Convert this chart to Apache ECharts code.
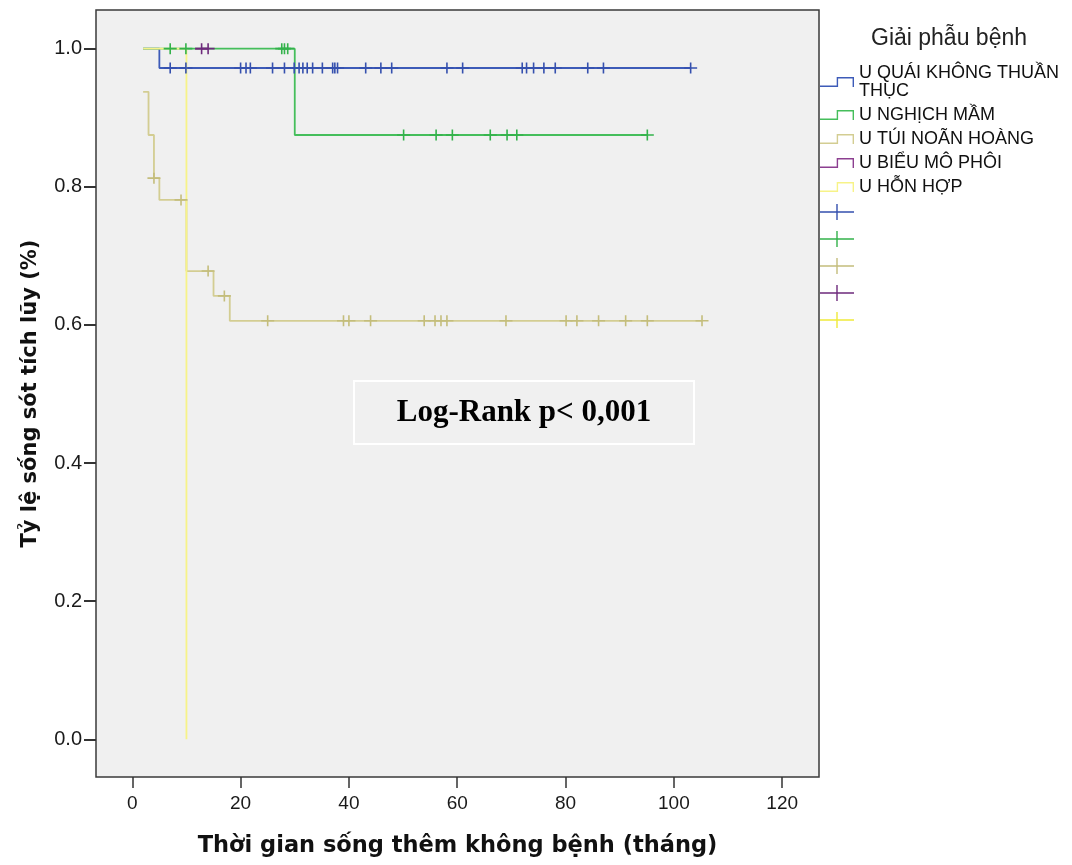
<!DOCTYPE html>
<html><head><meta charset="utf-8">
<script src="https://cdn.jsdelivr.net/npm/echarts@6/dist/echarts.min.js"></script>
<style>html,body{margin:0;padding:0;background:#fff}#c{width:1072px;height:865px}</style>
</head><body><div id="c"></div>
<script>
// ---- Data ----
const groupNames = ['U QUÁI KHÔNG THUẦN THỤC', 'U NGHỊCH MẦM', 'U TÚI NOÃN HOÀNG', 'U BIỂU MÔ PHÔI', 'U HỖN HỢP'];

// Kaplan-Meier steps: time (months) and survival from that time on
const blueTimes = [2, 5];
const blueSurv = [1.0, 0.972];
const blueCensor = [7.0, 9.9, 20.0, 21.0, 21.8, 25.9, 28.1, 29.9, 30.8, 31.5, 32.3, 33.3, 35.1, 37.0, 37.4, 37.9, 43.1, 45.9, 47.9, 58.1, 61.0, 72.0, 72.8, 74.1, 76.0, 78.1, 84.1, 87.0, 103.1];

const greenTimes = [2, 30];
const greenSurv = [1.0, 0.875];
const greenCensor = [7.0, 9.9, 27.6, 28.1, 28.7, 50.1, 56.1, 59.1, 66.1, 69.2, 71.0, 95.1];

const tanTimes = [2, 3, 4, 5, 10, 15, 18];
const tanSurv = [0.9375, 0.875, 0.8125, 0.781, 0.678, 0.642, 0.606];
const tanCensor = [4, 9, 14, 17, 25, 39, 40, 44, 53.9, 55.9, 57.0, 58.1, 69.0, 80.1, 82.1, 86.1, 91.1, 95.1, 105.2];

const purpleTimes = [11.6];
const purpleSurv = [1.0];
const purpleCensor = [12.8, 14.0];

const yellowTimes = [2, 10];
const yellowSurv = [1.0, 0.0];
const yellowCensor = [];

const xTicks = [0, 20, 40, 60, 80, 100, 120];
const yTicks = [0, 0.2, 0.4, 0.6, 0.8, 1.0];

// ---- Styles ----
const lineColors = ['#3D5BB8', '#45BE5B', '#D3CD92', '#8C3F90', '#F7F388'];
const censorColors = ['#3550AE', '#33B24B', '#C4BD7C', '#6E2A7C', '#F0EA3A'];

const groups = [
  [blueTimes, blueSurv, blueCensor],
  [greenTimes, greenSurv, greenCensor],
  [tanTimes, tanSurv, tanCensor],
  [purpleTimes, purpleSurv, purpleCensor],
  [yellowTimes, yellowSurv, yellowCensor]
];

function survAt(times, surv, t) {
  let s = surv[0];
  for (let i = 0; i < times.length; i++) if (times[i] <= t + 1e-9) s = surv[i];
  return s;
}

const stepIcon = 'path://M0,8.6 L16.7,8.6 L16.7,0 L34,0 L34,10 L32.6,10 L32.6,1.4 L18.1,1.4 L18.1,10 L0,10 Z';
const plusIcon = 'path://M0,7.3 L16.3,7.3 L16.3,0 L17.7,0 L17.7,7.3 L34,7.3 L34,8.7 L17.7,8.7 L17.7,16 L16.3,16 L16.3,8.7 L0,8.7 Z';
const plusMark = 'path://M0,4.7 L5.7,4.7 L5.7,0 L7.3,0 L7.3,4.7 L13,4.7 L13,6.3 L7.3,6.3 L7.3,11 L5.7,11 L5.7,6.3 L0,6.3 Z';

const censorNames = groupNames.map((n, i) => 'censor' + (i + 1));

const series = [];
groups.forEach((g, i) => {
  const [times, surv, cens] = g;
  const pts = times.map((t, k) => [t, surv[k]]);
  const endT = Math.max(times[times.length - 1], cens.length ? cens[cens.length - 1] : -Infinity);
  if (endT > times[times.length - 1]) pts.push([endT, surv[surv.length - 1]]);
  series.push({
    name: groupNames[i], type: 'line', step: 'end', data: pts,
    showSymbol: false, symbol: 'none', silent: true, z: 2 + i * 0.1,
    itemStyle: { color: lineColors[i] },
    lineStyle: { color: lineColors[i], width: 1.8 }
  });
});
groups.forEach((g, i) => {
  const [times, surv, cens] = g;
  series.push({
    name: censorNames[i], type: 'scatter', silent: true, z: 3 + i * 0.1,
    symbol: plusMark, symbolSize: [13, 11],
    itemStyle: { color: censorColors[i], opacity: 1 },
    data: cens.map(t => [t, survAt(times, surv, t)])
  });
});

const chart = echarts.init(document.getElementById('c'), null, { renderer: 'canvas' });
chart.setOption({
  animation: false,
  backgroundColor: '#ffffff',
  title: {
    text: 'Giải phẫu bệnh', left: 866, top: 22,
    textStyle: { fontFamily: 'Liberation Sans', fontSize: 23, fontWeight: 'normal', color: '#222' }
  },
  grid: {
    left: 96, right: 253, top: 10, bottom: 88, show: true,
    backgroundColor: '#F0F0F0', borderColor: '#3a3a3a', borderWidth: 1.5
  },
  legend: [
    {
      orient: 'vertical', left: 820, top: 64, padding: 0,
      itemWidth: 34, itemHeight: 10, itemGap: 6, selectedMode: false,
      icon: stepIcon, data: groupNames,
      itemStyle: { borderWidth: 0 },
      formatter: n => n === groupNames[0] ? 'U QUÁI KHÔNG THUẦN\nTHỤC' : n,
      textStyle: { fontFamily: 'Liberation Sans', fontSize: 18, lineHeight: 18, color: '#111' }
    },
    {
      orient: 'vertical', left: 820, top: 204, padding: 0,
      itemWidth: 34, itemHeight: 16, itemGap: 11, selectedMode: false,
      icon: plusIcon, data: censorNames,
      itemStyle: { borderWidth: 0 },
      formatter: () => '',
      textStyle: { fontSize: 8 }
    }
  ],
  xAxis: {
    type: 'value', min: -6.7, max: 126.8,
    name: 'Thời gian sống thêm không bệnh (tháng)', nameLocation: 'middle', nameGap: 58,
    nameTextStyle: { fontFamily: 'DejaVu Sans', fontWeight: 'bold', fontSize: 22.5, color: '#111' },
    axisLine: { show: false, onZero: false },
    splitLine: { show: false },
    axisTick: { show: true, customValues: xTicks, length: 11, lineStyle: { color: '#333', width: 1.5 } },
    axisLabel: { customValues: xTicks, margin: 17, fontFamily: 'Liberation Sans', fontSize: 19, color: '#1a1a1a' }
  },
  yAxis: {
    type: 'value', min: -0.0546, max: 1.056,
    name: 'Tỷ lệ sống sót tích lũy (%)', nameLocation: 'middle', nameGap: 55, nameRotate: 90,
    nameTextStyle: { fontFamily: 'DejaVu Sans', fontWeight: 'bold', fontSize: 21, color: '#111' },
    axisLine: { show: false, onZero: false },
    splitLine: { show: false },
    axisTick: { show: true, customValues: yTicks, length: 12, lineStyle: { color: '#333', width: 2 } },
    axisLabel: { customValues: yTicks, margin: 14, fontFamily: 'Liberation Sans', fontSize: 20, color: '#1a1a1a',
      formatter: v => v.toFixed(1) }
  },
  graphic: [
    {
      type: 'group', left: 353, top: 380, silent: true, z: 10,
      children: [
        { type: 'rect', shape: { x: 0, y: 0, width: 340, height: 63 },
          style: { fill: '#F0F0F0', stroke: '#FFFFFF', lineWidth: 2 } },
        { type: 'text', x: 170, y: 31.5,
          style: { text: 'Log-Rank p< 0,001', fontFamily: 'Liberation Serif', fontWeight: 'bold', fontSize: 31,
            fill: '#000', align: 'center', verticalAlign: 'middle' } }
      ]
    }
  ],
  series: series
});
</script>
</body></html>
